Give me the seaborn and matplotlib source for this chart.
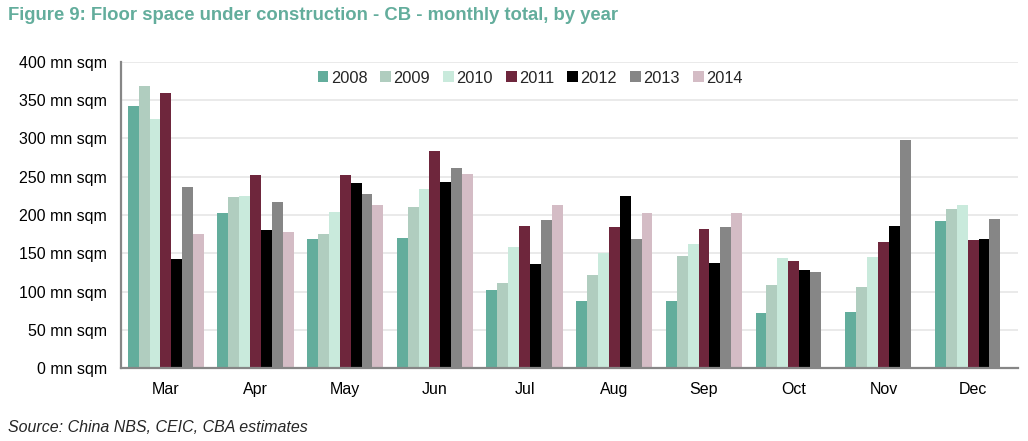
import numpy as np
import pandas as pd
import matplotlib.pyplot as plt
import seaborn as sns

# monthly floor space under construction, mn sqm
months = ['Mar', 'Apr', 'May', 'Jun', 'Jul', 'Aug', 'Sep', 'Oct', 'Nov', 'Dec']
years = ['2008', '2009', '2010', '2011', '2012', '2013', '2014']

y2008 = [343, 203, 168, 170, 102, 87, 88, 72, 73, 192]
y2009 = [368, 223, 175, 211, 111, 121, 146, 108, 106, 208]
y2010 = [326, 225, 204, 234, 158, 150, 162, 144, 145, 213]
y2011 = [360, 252, 252, 283, 185, 184, 182, 140, 165, 167]
y2012 = [143, 180, 242, 243, 136, 225, 137, 128, 185, 168]
y2013 = [236, 217, 228, 261, 193, 169, 184, 126, 298, 195]
y2014 = [175, 178, 213, 254, 213, 203, 203, np.nan, np.nan, np.nan]

colors = ['#63ad9c', '#b0cdbf', '#c9eadc', '#6e263c', '#000000', '#868686', '#d4bcc5']

series = [y2008, y2009, y2010, y2011, y2012, y2013, y2014]
rows = []
for yr, vals in zip(years, series):
    for m, v in zip(months, vals):
        rows.append({'month': m, 'year': yr, 'value': v})
df = pd.DataFrame(rows)

sns.set_style("white")
plt.rcParams['font.family'] = ['Liberation Sans', 'DejaVu Sans']

fig = plt.figure(figsize=(10.28, 4.41), dpi=100)
ax = fig.add_axes([0.1177, 0.1655, 0.8725, 0.694])

sns.barplot(data=df, x='month', y='value', hue='year', order=months,
            hue_order=years, palette=colors, width=0.85, gap=0,
            saturation=1, errorbar=None, linewidth=0, ax=ax, zorder=2)

ax.set_ylim(0, 400)
ax.set_xlim(-0.5, len(months) - 0.5)
ax.set_yticks(range(0, 401, 50))
ax.set_yticklabels([f'{t} mn sqm' for t in range(0, 401, 50)])
ax.yaxis.grid(True, color='#e6e6e6', linewidth=1.2, zorder=0)
ax.set_axisbelow(True)
ax.set_xlabel('')
ax.set_ylabel('')
ax.tick_params(axis='both', length=0, labelsize=11.5, colors='#000000')
ax.tick_params(axis='x', pad=10)
ax.tick_params(axis='y', pad=10)

for side in ['top', 'right']:
    ax.spines[side].set_visible(False)
for side in ['left', 'bottom']:
    ax.spines[side].set_color('#868686')
    ax.spines[side].set_linewidth(1.6)

ax.legend(title=None, ncol=7, loc='upper center', bbox_to_anchor=(0.456, 1.02),
          frameon=False, fontsize=11.8, handlelength=0.65, handleheight=0.65,
          handletextpad=0.15, columnspacing=0.8)

fig.text(0.008, 0.965, 'Figure 9: Floor space under construction - CB - monthly total, by year',
         color='#63ad9c', fontsize=13.3, fontweight='bold', va='center')
fig.text(0.008, 0.03, 'Source: China NBS, CEIC, CBA estimates',
         fontsize=11.5, style='italic', va='center')

fig.savefig('out.png', dpi=100)
